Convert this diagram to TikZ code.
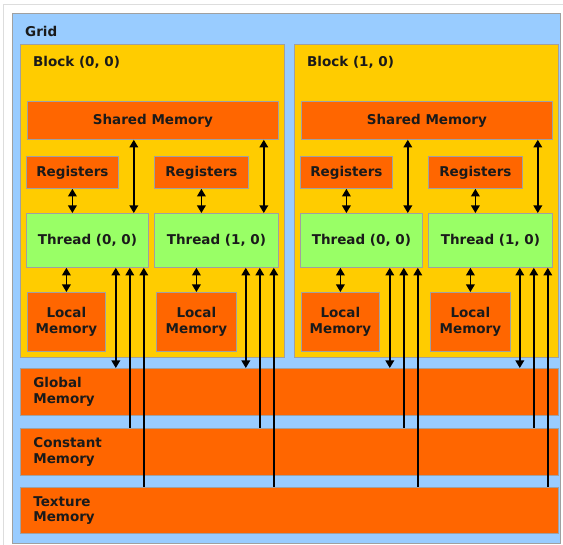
\documentclass[tikz,border=0pt]{standalone}
\usepackage{fontspec}
\setmainfont{DejaVu Sans}
\usetikzlibrary{arrows.meta,calc}
\definecolor{gridblue}{HTML}{99CCFF}
\definecolor{blockyel}{HTML}{FFCC00}
\definecolor{memorange}{HTML}{FF6600}
\definecolor{thrgreen}{HTML}{99FF66}
\definecolor{edgegray}{HTML}{A0A0A0}
\definecolor{framegray}{HTML}{DDDDDD}
\definecolor{txt}{HTML}{1A1A1A}
\begin{document}
\begin{tikzpicture}[x=1pt,y=-1pt,
  box/.style={draw=edgegray, line width=0.8pt, anchor=north west, inner sep=0pt,
    font=\fontsize{13.5}{15.5}\selectfont\bfseries, text=txt, align=center},
  mem/.style={box, fill=memorange},
  thr/.style={box, fill=thrgreen, minimum height=54pt},
  rowmem/.style={box, fill=memorange, minimum width=538pt, text width=512pt, align=left},
  lbl/.style={anchor=base west, inner sep=0pt, text=txt, font=\fontsize{13.5}{15.5}\selectfont\bfseries},
  conn/.style={line width=1.5pt, {Triangle[width=8.5pt,length=7.5pt]}-{Triangle[width=8.5pt,length=7.5pt]}},
  upconn/.style={line width=1.5pt, -{Triangle[width=8.5pt,length=7.5pt]}}
]
\useasboundingbox (0,0) rectangle (563,545);
\fill[white] (0,0) rectangle (563,545);
\draw[framegray, line width=1pt] (3,548) -- (3,5) -- (566,5);
% grid
\node[box, fill=gridblue, minimum width=548pt, minimum height=530pt] (grid) at (12,13) {};
\node[lbl] (gridlbl) at (25,37) {Grid};
% blocks
\node[box, fill=blockyel, minimum width=264pt, minimum height=313pt] (blk0) at (20,44) {};
\node[box, fill=blockyel, minimum width=264pt, minimum height=313pt] (blk1) at (294,44) {};
\node[lbl] (blk0lbl) at (33,67) {Block (0, 0)};
\node[lbl] (blk1lbl) at (307,67) {Block (1, 0)};
% shared memory
\node[mem, minimum width=251pt, minimum height=38pt] (sh0) at (27,101) {Shared Memory};
\node[mem, minimum width=251pt, minimum height=38pt] (sh1) at (301,101) {Shared Memory};
% registers
\node[mem, minimum width=92pt, minimum height=32pt] (r00) at (26,156) {Registers};
\node[mem, minimum width=94pt, minimum height=32pt] (r01) at (154,156) {Registers};
\node[mem, minimum width=92pt, minimum height=32pt] (r10) at (300,156) {Registers};
\node[mem, minimum width=94pt, minimum height=32pt] (r11) at (428,156) {Registers};
% threads
\node[thr, minimum width=122pt] (t00) at (26,213) {Thread (0, 0)};
\node[thr, minimum width=124pt] (t01) at (154,213) {Thread (1, 0)};
\node[thr, minimum width=122pt] (t10) at (300,213) {Thread (0, 0)};
\node[thr, minimum width=124pt] (t11) at (428,213) {Thread (1, 0)};
% local memory
\node[mem, minimum width=78pt, minimum height=59pt] (l00) at (27,292) {Local\\Memory};
\node[mem, minimum width=80pt, minimum height=59pt] (l01) at (156,292) {Local\\Memory};
\node[mem, minimum width=78pt, minimum height=59pt] (l10) at (301,292) {Local\\Memory};
\node[mem, minimum width=80pt, minimum height=59pt] (l11) at (430,292) {Local\\Memory};
% global rows
\node[rowmem, minimum height=47pt] (gm) at (20,368) {Global\\Memory};
\node[rowmem, minimum height=47pt] (cm) at (20,428) {Constant\\Memory};
\node[rowmem, minimum height=46pt] (tm) at (20,487) {Texture\\Memory};
% connectors
\foreach \t/\r/\l/\s in {t00/r00/l00/sh0, t01/r01/l01/sh0, t10/r10/l10/sh1, t11/r11/l11/sh1}{
  \draw[conn] (\r.south) -- (\r.south |- \t.north);
  \draw[conn] (\l.north) -- (\l.north |- \t.south);
  \coordinate (\t-s) at ($(\t.north east)+(-15,0)$);
  \draw[conn] (\s.south -| \t-s) -- (\t-s);
  \coordinate (\t-g) at ($(\t.south east)+(-33,0)$);
  \coordinate (\t-c) at ($(\t.south east)+(-19,0)$);
  \coordinate (\t-x) at ($(\t.south east)+(-5,0)$);
  \draw[conn] (\t-g) -- (\t-g |- gm.north);
  \draw[upconn] (\t-c |- cm.north) -- (\t-c);
  \draw[upconn] (\t-x |- tm.north) -- (\t-x);
}
\end{tikzpicture}
\end{document}
